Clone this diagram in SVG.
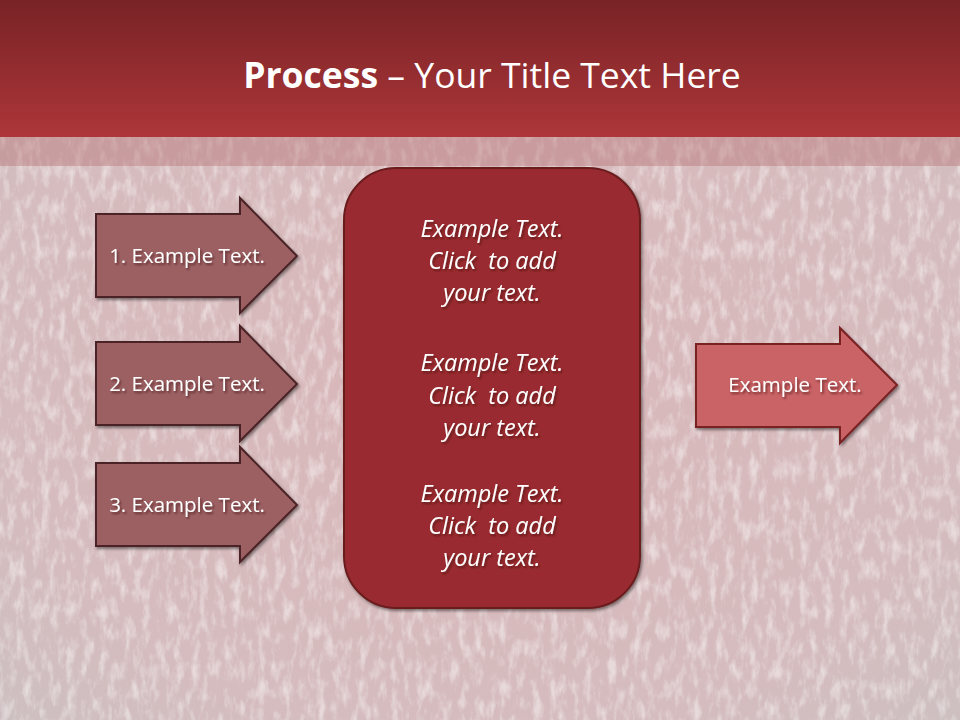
<svg xmlns="http://www.w3.org/2000/svg" width="960" height="720" viewBox="0 0 960 720">
<defs>
<linearGradient id="hdr" x1="0" y1="0" x2="0" y2="1">
<stop offset="0" stop-color="#782326"/>
<stop offset="1" stop-color="#ad3639"/>
</linearGradient>
<radialGradient id="bg" cx="0.5" cy="0.5" r="0.75">
<stop offset="0" stop-color="#d9b6b9"/>
<stop offset="0.7" stop-color="#d5bcbe"/>
<stop offset="1" stop-color="#cbc0c1"/>
</radialGradient>
<filter id="tex" x="0" y="0" width="100%" height="100%">
<feTurbulence type="fractalNoise" baseFrequency="0.12 0.05" numOctaves="4" seed="7" result="n"/>
<feColorMatrix in="n" type="matrix" values="0 0 0 0 1  0 0 0 0 1  0 0 0 0 1  0 0 0 -2.6 1.45" result="a"/>
<feComposite in="a" in2="SourceGraphic" operator="in"/>
</filter>
<filter id="sh" x="-20%" y="-20%" width="140%" height="140%">
<feDropShadow dx="1.5" dy="2" stdDeviation="1.5" flood-color="#000" flood-opacity="0.45"/>
</filter>
<filter id="tsh" x="-10%" y="-30%" width="120%" height="160%">
<feDropShadow dx="1.5" dy="2" stdDeviation="1.2" flood-color="#3a0a0c" flood-opacity="0.6"/>
</filter>
<style>
.arr{fill:#9c6164;stroke:#4b2325;stroke-width:2}
.arrR{fill:#c96366;stroke:#7a2024;stroke-width:2}
.box{fill:#9a2c30;stroke:#6a1c1f;stroke-width:2}
.lbl{font-family:"Open Sans","Liberation Sans",sans-serif;font-size:20.5px;fill:#ffffff;text-anchor:middle}
.it{font-family:"Open Sans","Liberation Sans",sans-serif;font-style:italic;font-size:23.5px;fill:#ffffff;text-anchor:middle;white-space:pre}
</style>
</defs>
<rect x="0" y="0" width="960" height="720" fill="url(#bg)"/>
<rect x="0" y="0" width="960" height="720" fill="#ffffff" filter="url(#tex)" opacity="0.45"/>
<rect x="0" y="137" width="960" height="29" fill="#b56e71" opacity="0.4"/>
<rect x="0" y="0" width="960" height="137" fill="url(#hdr)"/>
<text x="492" y="88" text-anchor="middle" font-family="Open Sans,Liberation Sans,sans-serif" font-size="35.5" fill="#ffffff"><tspan font-weight="bold">Process</tspan> – Your Title Text Here</text>

<g id="connectors"></g>

<g id="arrow1" filter="url(#sh)">
<path class="arr" d="M96,214 H240 V198 L297,256 L240,313 V297 H96 Z"/>
<text class="lbl" x="187" y="263" filter="url(#tsh)">1. Example Text.</text>
</g>
<g id="arrow2" filter="url(#sh)">
<path class="arr" d="M96,342 H240 V326 L297,384 L240,441 V425 H96 Z"/>
<text class="lbl" x="187" y="391" filter="url(#tsh)">2. Example Text.</text>
</g>
<g id="arrow3" filter="url(#sh)">
<path class="arr" d="M96,463 H240 V447 L297,505 L240,562 V546 H96 Z"/>
<text class="lbl" x="187" y="512" filter="url(#tsh)">3. Example Text.</text>
</g>

<g id="centerBox" filter="url(#sh)">
<rect class="box" x="344" y="168" width="296" height="440" rx="52" ry="52"/>
<g filter="url(#tsh)">
<text class="it" x="492" y="237">Example Text.</text>
<text class="it" x="492" y="269" xml:space="preserve">Click  to add</text>
<text class="it" x="492" y="301">your text.</text>
<text class="it" x="492" y="371">Example Text.</text>
<text class="it" x="492" y="404" xml:space="preserve">Click  to add</text>
<text class="it" x="492" y="436">your text.</text>
<text class="it" x="492" y="502">Example Text.</text>
<text class="it" x="492" y="534" xml:space="preserve">Click  to add</text>
<text class="it" x="492" y="566">your text.</text>
</g>
</g>

<g id="arrowOut" filter="url(#sh)">
<path class="arrR" d="M696,344 H840 V328 L897,385 L840,443 V427 H696 Z"/>
<text class="lbl" x="795" y="392" filter="url(#tsh)">Example Text.</text>
</g>
</svg>
